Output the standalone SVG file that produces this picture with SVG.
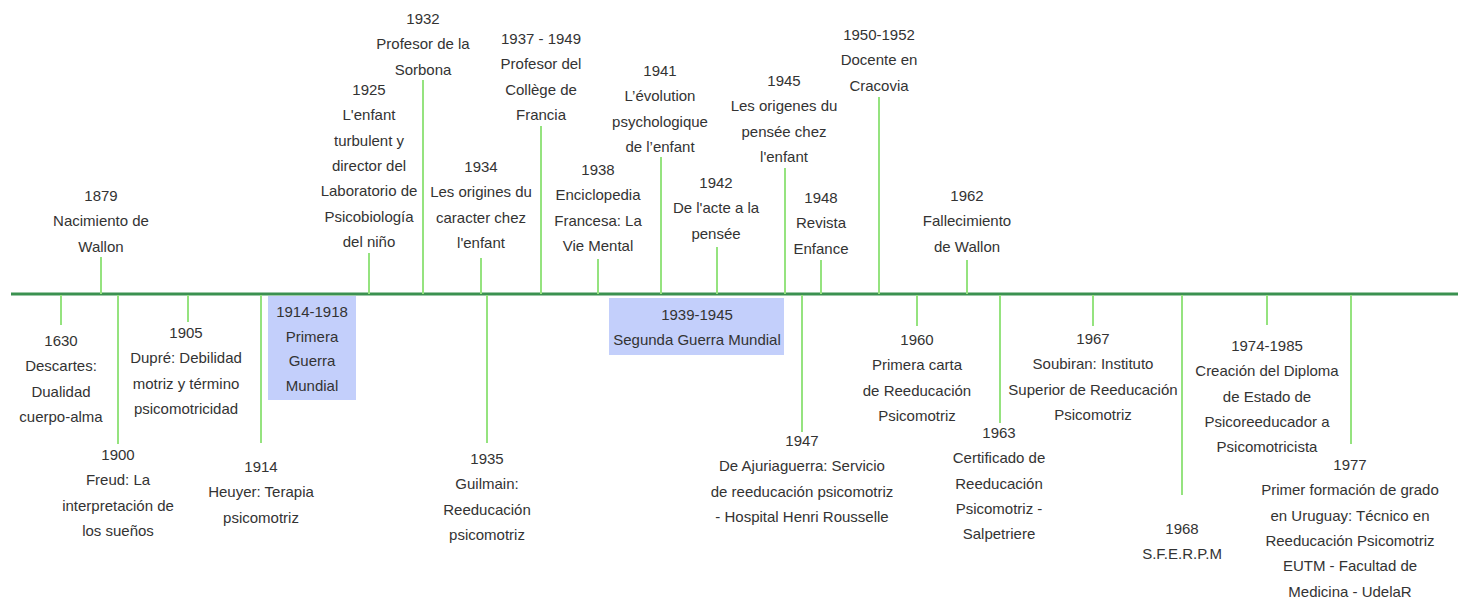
<svg xmlns="http://www.w3.org/2000/svg" width="1458" height="598" viewBox="0 0 1458 598">
<style>
.t{font-family:"Liberation Sans",Arial,sans-serif;font-size:15px;fill:#333;text-anchor:middle}
.tick{stroke:#95e37f;stroke-width:2;fill:none}
.axis{stroke:#3b9150;stroke-width:3;fill:none}
.box{fill:#c3cffb}
</style>
<rect width="1458" height="598" fill="#fff"/>
<g id="connectors">
<line class="axis" x1="11" y1="294" x2="1458" y2="294"/>
<line class="tick" x1="101" y1="257" x2="101" y2="294"/>
<line class="tick" x1="369" y1="253" x2="369" y2="294"/>
<line class="tick" x1="423" y1="80" x2="423" y2="294"/>
<line class="tick" x1="481" y1="258" x2="481" y2="294"/>
<line class="tick" x1="541" y1="126" x2="541" y2="294"/>
<line class="tick" x1="598" y1="259" x2="598" y2="294"/>
<line class="tick" x1="661" y1="157" x2="661" y2="294"/>
<line class="tick" x1="717" y1="247" x2="717" y2="294"/>
<line class="tick" x1="785" y1="168" x2="785" y2="294"/>
<line class="tick" x1="821" y1="260" x2="821" y2="294"/>
<line class="tick" x1="879" y1="97" x2="879" y2="294"/>
<line class="tick" x1="967" y1="260" x2="967" y2="294"/>
<line class="tick" x1="61" y1="295" x2="61" y2="325"/>
<line class="tick" x1="118" y1="295" x2="118" y2="444"/>
<line class="tick" x1="188" y1="295" x2="188" y2="322"/>
<line class="tick" x1="261" y1="295" x2="261" y2="443"/>
<line class="tick" x1="487" y1="295" x2="487" y2="443"/>
<line class="tick" x1="802" y1="295" x2="802" y2="432"/>
<line class="tick" x1="917" y1="295" x2="917" y2="326"/>
<line class="tick" x1="1000" y1="295" x2="1000" y2="423"/>
<line class="tick" x1="1093" y1="295" x2="1093" y2="326"/>
<line class="tick" x1="1182" y1="295" x2="1182" y2="495"/>
<line class="tick" x1="1267" y1="295" x2="1267" y2="325"/>
<line class="tick" x1="1351" y1="295" x2="1351" y2="444"/>
</g>
<g id="n1879"><text class="t" y="201"><tspan x="101">1879</tspan><tspan x="101" dy="25.3">Nacimiento de</tspan><tspan x="101" dy="25.3">Wallon</tspan></text></g>
<g id="n1925"><text class="t" y="95"><tspan x="369">1925</tspan><tspan x="369" dy="25.3">L'enfant</tspan><tspan x="369" dy="25.3">turbulent y</tspan><tspan x="369" dy="25.3">director del</tspan><tspan x="369" dy="25.3">Laboratorio de</tspan><tspan x="369" dy="25.3">Psicobiología</tspan><tspan x="369" dy="25.3">del niño</tspan></text></g>
<g id="n1932"><text class="t" y="24"><tspan x="423">1932</tspan><tspan x="423" dy="25.3">Profesor de la</tspan><tspan x="423" dy="25.3">Sorbona</tspan></text></g>
<g id="n1934"><text class="t" y="172"><tspan x="481">1934</tspan><tspan x="481" dy="25.3">Les origines du</tspan><tspan x="481" dy="25.3">caracter chez</tspan><tspan x="481" dy="25.3">l'enfant</tspan></text></g>
<g id="n1937"><text class="t" y="44"><tspan x="541">1937 - 1949</tspan><tspan x="541" dy="25.3">Profesor del</tspan><tspan x="541" dy="25.3">Collège de</tspan><tspan x="541" dy="25.3">Francia</tspan></text></g>
<g id="n1938"><text class="t" y="175"><tspan x="598">1938</tspan><tspan x="598" dy="25.3">Enciclopedia</tspan><tspan x="598" dy="25.3">Francesa: La</tspan><tspan x="598" dy="25.3">Vie Mental</tspan></text></g>
<g id="n1941"><text class="t" y="76"><tspan x="660">1941</tspan><tspan x="660" dy="25.3">L’évolution</tspan><tspan x="660" dy="25.3">psychologique</tspan><tspan x="660" dy="25.3">de l’enfant</tspan></text></g>
<g id="n1942"><text class="t" y="188"><tspan x="716">1942</tspan><tspan x="716" dy="25.3">De l'acte a la</tspan><tspan x="716" dy="25.3">pensée</tspan></text></g>
<g id="n1945"><text class="t" y="86"><tspan x="784">1945</tspan><tspan x="784" dy="25.3">Les origenes du</tspan><tspan x="784" dy="25.3">pensée chez</tspan><tspan x="784" dy="25.3">l'enfant</tspan></text></g>
<g id="n1948"><text class="t" y="203"><tspan x="821">1948</tspan><tspan x="821" dy="25.3">Revista</tspan><tspan x="821" dy="25.3">Enfance</tspan></text></g>
<g id="n1950"><text class="t" y="40"><tspan x="879">1950-1952</tspan><tspan x="879" dy="25.3">Docente en</tspan><tspan x="879" dy="25.3">Cracovia</tspan></text></g>
<g id="n1962"><text class="t" y="201"><tspan x="967">1962</tspan><tspan x="967" dy="25.3">Fallecimiento</tspan><tspan x="967" dy="25.3">de Wallon</tspan></text></g>
<g id="n1630"><text class="t" y="346"><tspan x="61">1630</tspan><tspan x="61" dy="25.3">Descartes:</tspan><tspan x="61" dy="25.3">Dualidad</tspan><tspan x="61" dy="25.3">cuerpo-alma</tspan></text></g>
<g id="n1900"><text class="t" y="460"><tspan x="118">1900</tspan><tspan x="118" dy="25.3">Freud: La</tspan><tspan x="118" dy="25.3">interpretación de</tspan><tspan x="118" dy="25.3">los sueños</tspan></text></g>
<g id="n1905"><text class="t" y="338"><tspan x="186">1905</tspan><tspan x="186" dy="25.3">Dupré: Debilidad</tspan><tspan x="186" dy="25.3">motriz y término</tspan><tspan x="186" dy="25.3">psicomotricidad</tspan></text></g>
<g id="n1914"><text class="t" y="472"><tspan x="261">1914</tspan><tspan x="261" dy="25.3">Heuyer: Terapia</tspan><tspan x="261" dy="25.3">psicomotriz</tspan></text></g>
<g id="ww1"><rect class="box" x="268" y="296" width="88" height="104"/><text class="t" y="317"><tspan x="312">1914-1918</tspan><tspan x="312" dy="24.5">Primera</tspan><tspan x="312" dy="24.5">Guerra</tspan><tspan x="312" dy="24.5">Mundial</tspan></text></g>
<g id="n1935"><text class="t" y="464"><tspan x="487">1935</tspan><tspan x="487" dy="25.3">Guilmain:</tspan><tspan x="487" dy="25.3">Reeducación</tspan><tspan x="487" dy="25.3">psicomotriz</tspan></text></g>
<g id="ww2"><rect class="box" x="609" y="298" width="175" height="57"/><text class="t" y="320"><tspan x="697">1939-1945</tspan><tspan x="697" dy="25">Segunda Guerra Mundial</tspan></text></g>
<g id="n1947"><text class="t" y="446"><tspan x="802">1947</tspan><tspan x="802" dy="25.3">De Ajuriaguerra: Servicio</tspan><tspan x="802" dy="25.3">de reeducación psicomotriz</tspan><tspan x="802" dy="25.3">- Hospital Henri Rousselle</tspan></text></g>
<g id="n1960"><text class="t" y="345"><tspan x="917">1960</tspan><tspan x="917" dy="25.3">Primera carta</tspan><tspan x="917" dy="25.3">de Reeducación</tspan><tspan x="917" dy="25.3">Psicomotriz</tspan></text></g>
<g id="n1963"><text class="t" y="438"><tspan x="999">1963</tspan><tspan x="999" dy="25.3">Certificado de</tspan><tspan x="999" dy="25.3">Reeducación</tspan><tspan x="999" dy="25.3">Psicomotriz -</tspan><tspan x="999" dy="25.3">Salpetriere</tspan></text></g>
<g id="n1967"><text class="t" y="344"><tspan x="1093">1967</tspan><tspan x="1093" dy="25.3">Soubiran: Instituto</tspan><tspan x="1093" dy="25.3">Superior de Reeducación</tspan><tspan x="1093" dy="25.3">Psicomotriz</tspan></text></g>
<g id="n1968"><text class="t" y="534"><tspan x="1182">1968</tspan><tspan x="1182" dy="25.3">S.F.E.R.P.M</tspan></text></g>
<g id="n1974"><text class="t" y="351"><tspan x="1267">1974-1985</tspan><tspan x="1267" dy="25.3">Creación del Diploma</tspan><tspan x="1267" dy="25.3">de Estado de</tspan><tspan x="1267" dy="25.3">Psicoreeducador a</tspan><tspan x="1267" dy="25.3">Psicomotricista</tspan></text></g>
<g id="n1977"><text class="t" y="470"><tspan x="1350">1977</tspan><tspan x="1350" dy="25.3">Primer formación de grado</tspan><tspan x="1350" dy="25.3">en Uruguay: Técnico en</tspan><tspan x="1350" dy="25.3">Reeducación Psicomotriz</tspan><tspan x="1350" dy="25.3">EUTM - Facultad de</tspan><tspan x="1350" dy="25.3">Medicina - UdelaR</tspan></text></g>
</svg>
